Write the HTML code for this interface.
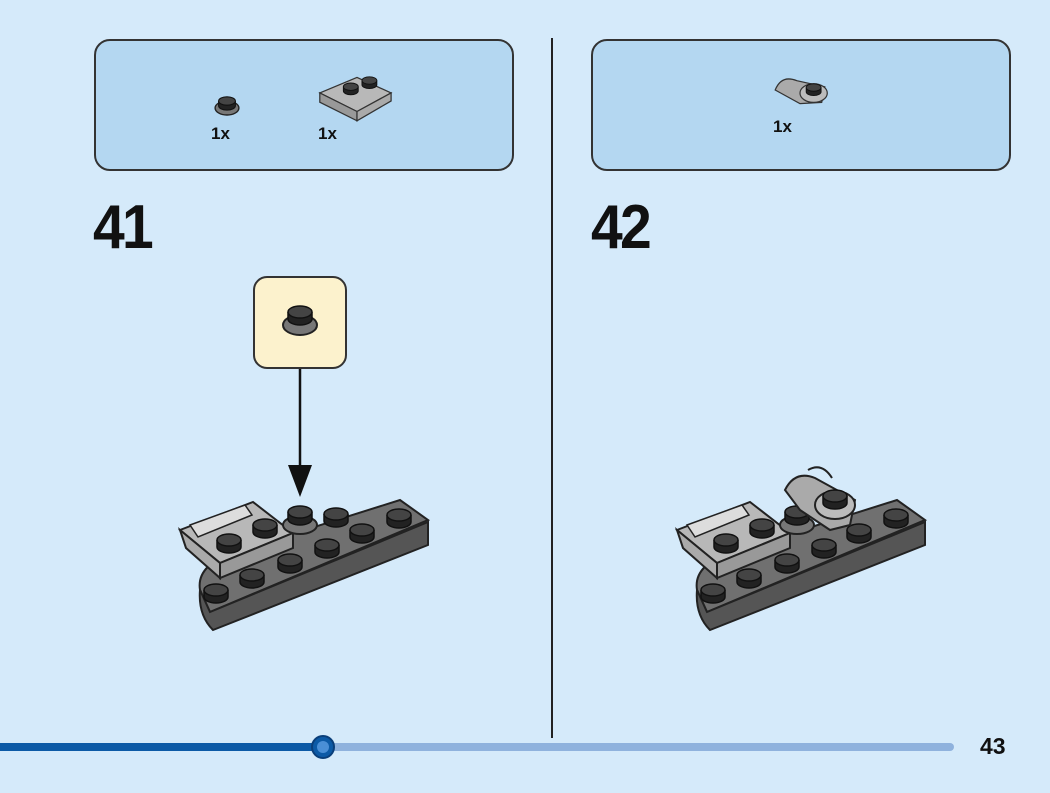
<!DOCTYPE html>
<html><head><meta charset="utf-8"><style>
html,body{margin:0;padding:0;background:#d5eafa;}
body{width:1050px;height:793px;position:relative;overflow:hidden;font-family:"Liberation Sans",sans-serif;}
.box{position:absolute;background:#b4d7f1;border:2px solid #333;border-radius:16px;box-sizing:border-box;}
.num{position:absolute;font-weight:bold;font-size:62px;color:#111;letter-spacing:-3px;transform:scaleX(0.92);transform-origin:left top;}
.q{position:absolute;font-weight:bold;font-size:17px;color:#111;}
</style></head><body>
<div class="box" style="left:94px;top:39px;width:420px;height:132px"></div>
<div class="box" style="left:591px;top:39px;width:420px;height:132px"></div>
<div class="q" style="left:211px;top:124px">1x</div>
<div class="q" style="left:318px;top:124px">1x</div>
<div class="q" style="left:773px;top:117px">1x</div>
<div class="num" style="left:93px;top:192px">41</div>
<div class="num" style="left:591px;top:192px">42</div>
<div style="position:absolute;left:253px;top:276px;width:94px;height:93px;background:#fcf2cd;border:2px solid #333;border-radius:14px;box-sizing:border-box"></div>
<div style="position:absolute;left:551px;top:38px;width:2px;height:700px;background:#222"></div>
<div class="q" style="left:980px;top:733px;font-size:23px">43</div>
<svg width="1050" height="793" style="position:absolute;left:0;top:0">
<defs>
<g id="stud"><path d="M-12,0 v7 a12,6 0 0 0 24,0 v-7" fill="#222" stroke="#111" stroke-width="1.5"/><ellipse cx="0" cy="0" rx="12" ry="6" fill="#444" stroke="#111" stroke-width="1.5"/></g>
<g id="model">
<path d="M200,590 Q196,565 235,552 L400,500 L428,520 L210,612 Z" fill="#707070" stroke="#222" stroke-width="2"/>
<path d="M200,590 L210,612 L428,522 L428,545 L213,630 Q198,615 200,590 Z" fill="#555" stroke="#222" stroke-width="2"/>
<path d="M180,530 L253,502 L293,533 L220,563 Z" fill="#b8b8b8" stroke="#222" stroke-width="2"/>
<path d="M220,563 L293,533 L293,548 L220,578 Z" fill="#999" stroke="#222" stroke-width="2"/>
<path d="M180,530 L220,563 L220,578 L186,548 Z" fill="#aaa" stroke="#222" stroke-width="2"/>
<path d="M190,525 L245,505 L252,515 L198,537 Z" fill="#ddd" stroke="#222" stroke-width="1.5"/>
<use href="#stud" x="229" y="540"/><use href="#stud" x="265" y="525"/>
<use href="#stud" x="216" y="590"/><use href="#stud" x="252" y="575"/><use href="#stud" x="290" y="560"/>
<use href="#stud" x="327" y="545"/><use href="#stud" x="362" y="530"/><use href="#stud" x="336" y="514"/><use href="#stud" x="399" y="515"/>
</g>
</defs>
<use href="#model"/>
<ellipse cx="300" cy="525" rx="17" ry="9" fill="#777" stroke="#222" stroke-width="2"/>
<use href="#stud" x="300" y="512"/>
<use href="#model" x="497" y="0"/>
<ellipse cx="797" cy="525" rx="17" ry="9" fill="#777" stroke="#222" stroke-width="2"/>
<use href="#stud" x="797" y="512"/>
<path d="M785,490 Q795,470 815,478 L855,500 L850,525 L830,530 L800,510 Z" fill="#aaa" stroke="#222" stroke-width="2"/>
<ellipse cx="835" cy="505" rx="20" ry="14" fill="#bbb" stroke="#222" stroke-width="2"/>
<path d="M808,470 Q822,462 832,478" fill="none" stroke="#222" stroke-width="2"/>
<use href="#stud" x="835" y="496"/>
<ellipse cx="300" cy="325" rx="17" ry="10" fill="#777" stroke="#222" stroke-width="2"/>
<use href="#stud" x="300" y="312"/>
<line x1="300" y1="369" x2="300" y2="470" stroke="#111" stroke-width="2.5"/>
<path d="M288,465 L312,465 L300,497 Z" fill="#111"/>
<g transform="translate(227,101) scale(0.7)"><ellipse cx="0" cy="10" rx="17" ry="10" fill="#777" stroke="#222" stroke-width="2"/><use href="#stud" x="0" y="0"/></g>
<g transform="translate(357,96) scale(0.62)">
<path d="M-60,-5 L0,-30 L55,-5 L0,25 Z" fill="#b8b8b8" stroke="#333" stroke-width="2"/>
<path d="M-60,-5 L0,25 L0,40 L-60,10 Z" fill="#999" stroke="#333" stroke-width="2"/>
<path d="M0,25 L55,-5 L55,8 L0,40 Z" fill="#aaa" stroke="#333" stroke-width="2"/>
<use href="#stud" x="-10" y="-15"/><use href="#stud" x="20" y="-25"/></g>
<g transform="translate(800,90) scale(0.62)">
<path d="M-40,0 Q-30,-25 -5,-15 L40,-5 L35,20 L0,22 Z" fill="#aaa" stroke="#333" stroke-width="2"/>
<ellipse cx="22" cy="5" rx="22" ry="15" fill="#bbb" stroke="#333" stroke-width="2"/><use href="#stud" x="22" y="-4"/></g>
<line x1="0" y1="747" x2="323" y2="747" stroke="#0c5aa6" stroke-width="8"/>
<line x1="323" y1="747" x2="950" y2="747" stroke="#8fb2dd" stroke-width="8" stroke-linecap="round"/>
<circle cx="323" cy="747" r="11" fill="#0c5aa6" stroke="#0a3f7a" stroke-width="2"/>
<circle cx="323" cy="747" r="6" fill="#4a8fd6"/>
</svg>
</body></html>
